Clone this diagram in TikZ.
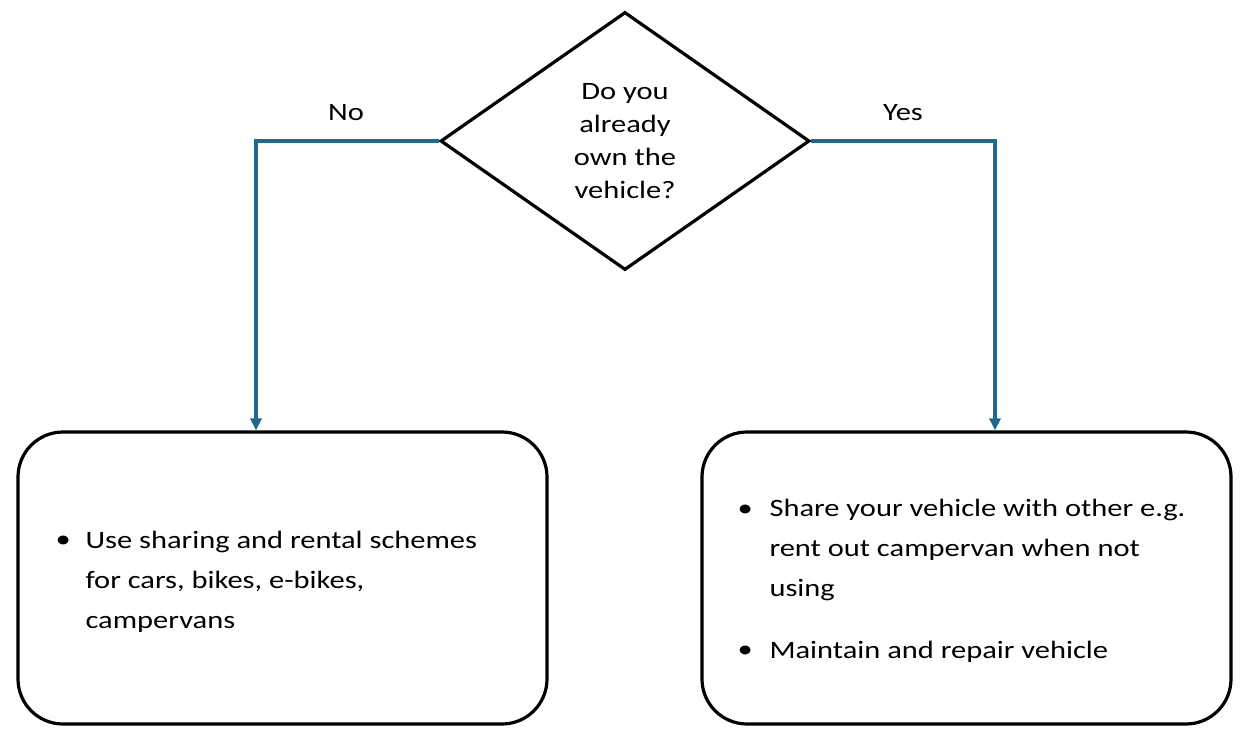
\documentclass[tikz,border=0pt]{standalone}
\usepackage{fontspec}
\setmainfont{Carlito}[FakeStretch=1.22]
\usetikzlibrary{shapes.geometric,arrows.meta}
\definecolor{conn}{HTML}{1F6A8C}
\begin{document}
\begin{tikzpicture}[x=1pt,y=-1pt,
  box/.style={draw,line width=3.2pt,rounded corners=45pt},
  conn/.style={draw=conn,line width=3.2pt,-{Triangle[width=11pt,length=12pt]}},
  txt/.style={font=\fontsize{25}{33}\selectfont,align=left,anchor=west}]
\useasboundingbox (0,0) rectangle (1256,730);
\node[diamond,draw,line width=3.2pt,minimum width=369pt,minimum height=258pt,inner sep=0pt] (d) at (625,141) {};
\node[font=\fontsize{25}{33}\selectfont,align=center] (q) at (625,141) {Do you\\already\\own the\\vehicle?};
\node[box,minimum width=529pt,minimum height=292pt] (l) at (282.5,578) {};
\node[box,minimum width=529pt,minimum height=292pt] (r) at (966.5,578) {};
\node[font=\fontsize{25}{30}\selectfont] (no) at (346,113) {No};
\node[font=\fontsize{25}{30}\selectfont] (yes) at (903,113) {Yes};
\coordinate (lc) at (256,141);
\coordinate (rc) at (995,141);
\draw[conn] (d.west) -- (lc) -- (lc |- l.north);
\draw[conn] (d.east) -- (rc) -- (rc |- r.north);
\node[txt] (lb) at (52,542) {•};
\node[txt,font=\fontsize{25}{40}\selectfont] (lt) at (82,582) {Use sharing and rental schemes\\for cars, bikes, e-bikes,\\campervans};
\node[txt] (rb1) at (734,511) {•};
\node[txt,font=\fontsize{25}{40}\selectfont] (rt1) at (766,550) {Share your vehicle with other e.g.\\rent out campervan when not\\using};
\node[txt] (rb2) at (734,652) {•};
\node[txt] (rt2) at (766,652) {Maintain and repair vehicle};
\end{tikzpicture}
\end{document}
